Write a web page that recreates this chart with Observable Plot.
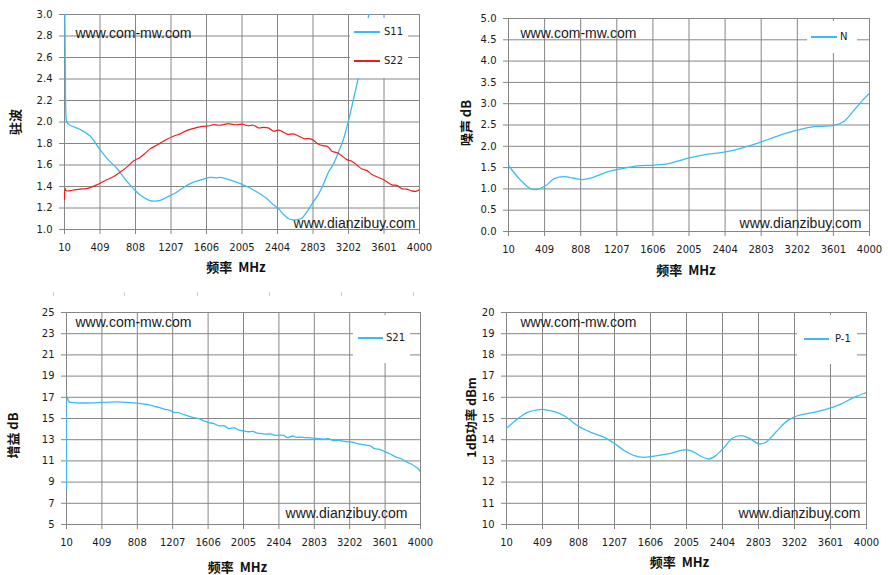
<!DOCTYPE html>
<html>
<head>
<meta charset="utf-8">
<script src="https://cdn.jsdelivr.net/npm/d3@7"></script>
<script src="https://cdn.jsdelivr.net/npm/@observablehq/plot@0.6"></script>
<style>
  body { margin: 0; background: #fff; }
  #wrap { position: relative; width: 888px; height: 575px; background: #fff; overflow: hidden; }
  .panel { position: absolute; }
  .lg { position: absolute; background: #fff; }
  .lgline { position: absolute; height: 1.5px; }
  .lgtext { position: absolute; font-family: "DejaVu Sans", sans-serif; font-size: 10px; color: #1a1a1a; line-height: 12px; }
  .art { position: absolute; width: 1px; height: 4px; background: #d0d0d0; }
</style>
</head>
<body>
<div id="wrap"></div>
<script>
// ---------- data ----------
const xTicks = [10, 409, 808, 1207, 1606, 2005, 2404, 2803, 3202, 3601, 4000];

const s11Freq = [10, 18, 25, 35, 74, 186, 298, 411, 500, 598, 700, 785, 860, 940, 991, 1085, 1160, 1235, 1310, 1385, 1460, 1535, 1647, 1720, 1759, 1830, 1909, 1980, 2059, 2130, 2209, 2280, 2358, 2420, 2471, 2530, 2583, 2640, 2677, 2740, 2808, 2860, 2920, 2980, 3033, 3090, 3145, 3201, 3260, 3314, 3370, 3430, 3480, 3600, 4000];
const s11Val  = [3.4, 2.6, 2.1, 2.0, 1.97, 1.93, 1.87, 1.74, 1.65, 1.57, 1.46, 1.38, 1.32, 1.28, 1.265, 1.27, 1.30, 1.33, 1.37, 1.41, 1.44, 1.46, 1.485, 1.48, 1.485, 1.47, 1.45, 1.43, 1.40, 1.37, 1.33, 1.29, 1.23, 1.19, 1.14, 1.10, 1.09, 1.095, 1.105, 1.17, 1.26, 1.32, 1.42, 1.54, 1.61, 1.72, 1.84, 2.01, 2.22, 2.42, 2.70, 3.00, 3.25, 3.7, 5.0];

const s22Freq = [10, 18, 30, 100, 186, 250, 298, 360, 411, 480, 560, 630, 710, 790, 860, 930, 972, 1060, 1160, 1240, 1310, 1380, 1460, 1530, 1572, 1640, 1684, 1740, 1800, 1850, 1909, 1960, 2010, 2070, 2134, 2190, 2250, 2300, 2360, 2420, 2470, 2520, 2580, 2640, 2700, 2760, 2808, 2870, 2920, 2970, 3020, 3070, 3120, 3183, 3240, 3295, 3350, 3407, 3460, 3520, 3580, 3632, 3690, 3744, 3800, 3857, 3910, 3960, 4000];
const s22Val  = [1.28, 1.38, 1.36, 1.365, 1.375, 1.38, 1.39, 1.41, 1.43, 1.46, 1.49, 1.53, 1.58, 1.64, 1.67, 1.72, 1.75, 1.79, 1.84, 1.87, 1.89, 1.92, 1.94, 1.955, 1.96, 1.965, 1.975, 1.97, 1.975, 1.985, 1.975, 1.975, 1.98, 1.965, 1.97, 1.945, 1.95, 1.945, 1.915, 1.925, 1.905, 1.885, 1.89, 1.87, 1.845, 1.845, 1.83, 1.79, 1.78, 1.77, 1.725, 1.715, 1.69, 1.65, 1.635, 1.60, 1.565, 1.55, 1.515, 1.49, 1.47, 1.445, 1.415, 1.41, 1.38, 1.375, 1.36, 1.355, 1.37];

const nFreq = [10, 146, 257, 330, 423, 515, 625, 736, 828, 957, 1104, 1252, 1436, 1620, 1767, 1878, 2007, 2173, 2357, 2504, 2651, 2799, 2983, 3167, 3351, 3462, 3609, 3720, 3830, 3941, 4000];
const nVal  = [1.55, 1.20, 1.00, 0.99, 1.08, 1.24, 1.29, 1.25, 1.22, 1.28, 1.40, 1.47, 1.54, 1.56, 1.59, 1.65, 1.73, 1.80, 1.85, 1.91, 2.00, 2.10, 2.24, 2.36, 2.45, 2.47, 2.49, 2.59, 2.85, 3.12, 3.24];

const s21Freq = [10, 20, 35, 59, 120, 209, 300, 397, 500, 584, 680, 772, 830, 885, 940, 997, 1050, 1110, 1170, 1222, 1280, 1335, 1390, 1447, 1500, 1560, 1610, 1673, 1730, 1785, 1840, 1898, 1950, 2010, 2060, 2110, 2160, 2210, 2260, 2311, 2360, 2420, 2461, 2500, 2560, 2600, 2648, 2700, 2760, 2836, 2900, 2960, 3024, 3080, 3140, 3211, 3270, 3330, 3399, 3440, 3480, 3540, 3580, 3624, 3680, 3737, 3790, 3849, 3900, 3943, 3980, 4000];
const s21Val  = [8.3, 17.0, 16.6, 16.52, 16.48, 16.46, 16.48, 16.52, 16.55, 16.56, 16.53, 16.48, 16.43, 16.36, 16.28, 16.15, 16.05, 15.88, 15.80, 15.58, 15.52, 15.36, 15.22, 15.08, 14.98, 14.78, 14.62, 14.52, 14.30, 14.32, 14.05, 14.12, 13.92, 13.82, 13.75, 13.78, 13.62, 13.58, 13.52, 13.55, 13.42, 13.44, 13.40, 13.20, 13.35, 13.22, 13.25, 13.20, 13.18, 13.12, 13.05, 13.10, 12.92, 12.95, 12.85, 12.80, 12.68, 12.55, 12.47, 12.40, 12.15, 12.08, 11.95, 11.78, 11.55, 11.32, 11.18, 10.88, 10.68, 10.45, 10.20, 9.93];

const p1Freq = [10, 132, 243, 372, 427, 538, 649, 797, 945, 1092, 1203, 1314, 1425, 1536, 1683, 1831, 1979, 2053, 2164, 2256, 2330, 2422, 2514, 2607, 2699, 2810, 2884, 2994, 3124, 3235, 3383, 3568, 3716, 3863, 4000];
const p1Val  = [14.54, 14.98, 15.29, 15.42, 15.42, 15.32, 15.13, 14.66, 14.35, 14.11, 13.83, 13.49, 13.25, 13.17, 13.25, 13.36, 13.52, 13.49, 13.22, 13.09, 13.25, 13.64, 14.07, 14.19, 14.07, 13.80, 13.88, 14.35, 14.90, 15.13, 15.26, 15.45, 15.68, 16.00, 16.23];

const yTicks1 = [1.0, 1.2, 1.4, 1.6, 1.8, 2.0, 2.2, 2.4, 2.6, 2.8, 3.0];
const yTicks2 = [0.0, 0.5, 1.0, 1.5, 2.0, 2.5, 3.0, 3.5, 4.0, 4.5, 5.0];
const yTicks3 = [5, 7, 9, 11, 13, 15, 17, 19, 21, 23, 25];
const yTicks4 = [10, 11, 12, 13, 14, 15, 16, 17, 18, 19, 20];

const BLUE = "#38bdf0", RED = "#ee1c1c", GRID = "#868686";
const zip = (fs, vs) => fs.map((f, i) => ({f, v: vs[i]}));

function panel(cfg) {
  const marks = [
    Plot.gridX(xTicks, {stroke: GRID, strokeOpacity: 1}),
    Plot.gridY(cfg.yTicks, {stroke: GRID, strokeOpacity: 1}),
    Plot.frame({stroke: GRID}),
    Plot.axisX(xTicks, {tickSize: 5, tickPadding: 9, stroke: GRID, fill: "#1a1a1a", label: null, tickFormat: d => String(d)}),
    Plot.axisY(cfg.yTicks, {tickSize: 5, tickPadding: 7, stroke: GRID, fill: "#1a1a1a", label: null, tickFormat: cfg.fmt}),
    Plot.text(["www.com-mw.com"], {frameAnchor: "top-left", textAnchor: "start", lineAnchor: "middle", dx: cfg.w1[0], dy: cfg.w1[1], fontSize: 14, fontFamily: "Liberation Sans", fill: "#1a1a1a"}),
    Plot.text(["www.dianzibuy.com"], {frameAnchor: "bottom-right", textAnchor: "end", lineAnchor: "middle", dx: cfg.w2[0], dy: cfg.w2[1], fontSize: 14, fontFamily: "Liberation Sans", fill: "#1a1a1a"}),
  ];
  for (const s of cfg.series) {
    marks.push(Plot.line(s.data, {x: "f", y: "v", stroke: s.color, strokeWidth: s.w || 1.3, curve: "catmull-rom", clip: true}));
  }
  marks.push(Plot.text([cfg.ylabel], {frameAnchor: "left", textAnchor: "middle", lineAnchor: "middle", rotate: -90, dx: cfg.yl[0], dy: cfg.yl[1], fontWeight: "bold", fontSize: cfg.ylSize || 13, fontFamily: "Noto Sans CJK SC", fill: "#111"}));
  marks.push(Plot.text(["频率  MHz"], {frameAnchor: "bottom", textAnchor: "middle", lineAnchor: "middle", dx: cfg.xl[0], dy: cfg.xl[1], fontWeight: "bold", fontSize: 13, fontFamily: "Noto Sans CJK SC", fill: "#111"}));
  return Plot.plot({
    width: 444, height: 285,
    marginLeft: cfg.m[0], marginRight: cfg.m[1], marginTop: cfg.m[2], marginBottom: cfg.m[3],
    style: {fontFamily: "DejaVu Sans", fontSize: "10px", color: "#1a1a1a", background: "transparent", overflow: "visible"},
    x: {type: "linear", domain: [10, 4000]},
    y: {type: "linear", domain: cfg.domain},
    marks
  });
}

const wrap = document.getElementById("wrap");
function place(el, left, top) {
  el.classList.add("panel");
  el.style.left = left + "px";
  el.style.top = top + "px";
  wrap.appendChild(el);
}

place(panel({
  m: [64, 25, 14, 56], domain: [1, 3], yTicks: yTicks1, fmt: d3.format(".1f"),
  series: [{data: zip(s11Freq, s11Val), color: BLUE}, {data: zip(s22Freq, s22Val), color: RED, w: 1.2}],
  ylabel: "驻波", yl: [-49, 0], xl: [-6, 38], w1: [11, 19], w2: [-4, -6]
}), 0, 0);

place(panel({
  m: [64, 19, 18, 54], domain: [0, 5], yTicks: yTicks2, fmt: d3.format(".1f"),
  series: [{data: zip(nFreq, nVal), color: BLUE}],
  ylabel: "噪声 dB", yl: [-42, -2], xl: [-3, 39], w1: [12, 15], w2: [-8, -8]
}), 444, 0);

place(panel({
  m: [66, 24, 22, 51], domain: [5, 25], yTicks: yTicks3, fmt: d => String(d),
  series: [{data: zip(s21Freq, s21Val), color: BLUE}],
  ylabel: "增益 dB", yl: [-53, 17], xl: [-6, 43], w1: [9, 10], w2: [-13, -11]
}), 0, 290);

place(panel({
  m: [62, 22, 22, 51], domain: [10, 20], yTicks: yTicks4, fmt: d => String(d),
  series: [{data: zip(p1Freq, p1Val), color: BLUE}],
  ylabel: "1dB功率 dBm", ylSize: 12.5, yl: [-35, -1], xl: [-7, 38], w1: [14, 10], w2: [-6, -11]
}), 444, 290);

// ---------- legends (HTML overlay) ----------
function legend(box, items) {
  const b = document.createElement("div");
  b.className = "lg";
  Object.assign(b.style, {left: box[0] + "px", top: box[1] + "px", width: box[2] + "px", height: box[3] + "px"});
  wrap.appendChild(b);
  for (const it of items) {
    const l = document.createElement("div");
    l.className = "lgline";
    Object.assign(l.style, {left: it.x0 + "px", top: (it.y - 0.75) + "px", width: (it.x1 - it.x0) + "px", background: it.color});
    wrap.appendChild(l);
    const t = document.createElement("div");
    t.className = "lgtext";
    t.textContent = it.label;
    Object.assign(t.style, {left: it.tx + "px", top: (it.y - 6) + "px"});
    wrap.appendChild(t);
  }
}
legend([350, 18, 58, 60], [
  {label: "S11", color: BLUE, x0: 354, x1: 380, y: 32, tx: 384},
  {label: "S22", color: RED, x0: 354, x1: 380, y: 61, tx: 384}
]);
legend([807, 21, 50, 32], [
  {label: "N", color: BLUE, x0: 811, x1: 837, y: 37, tx: 840}
]);
legend([353, 315, 57, 48], [
  {label: "S21", color: BLUE, x0: 358, x1: 383, y: 338, tx: 386}
]);
legend([797, 315, 60, 49], [
  {label: "P-1", color: BLUE, x0: 804, x1: 829, y: 339, tx: 835}
]);

// faint artefact ticks above the lower-left chart
const artX = [53, 124, 197, 269, 341, 413];
for (const x of artX) {
  const a = document.createElement("div");
  a.className = "art";
  a.style.left = x + "px";
  a.style.top = "292px";
  wrap.appendChild(a);
}
</script>
</body>
</html>
